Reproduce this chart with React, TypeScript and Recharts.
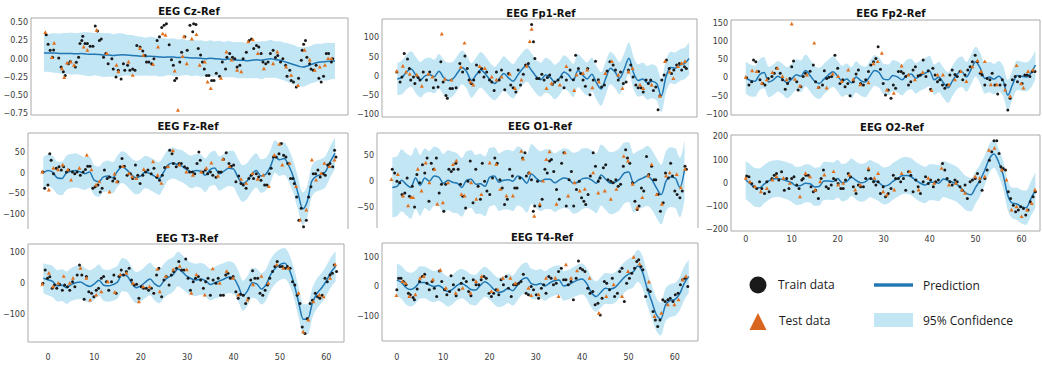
import React from "react";
import { Area, ComposedChart, Line, ReferenceLine, Scatter, XAxis, YAxis } from "recharts";

type Pt = [number, number];

const BAND = "#c3e6f5";
const PRED = "#1f77b4";
const TRAIN = "#1a1a1a";
const TEST = "#e0701c";
const FRAME = "#a9a9a9";
const TICK = "#3a3a3a";
const X_TICKS = [0, 10, 20, 30, 40, 50, 60];

// ---- EEG Cz-Ref (x from -1) ----
const czPred = [
  0.08, 0.08, 0.078, 0.075, 0.07, 0.072, 0.07, 0.068, 0.07, 0.065,
  0.06, 0.062, 0.058, 0.05, 0.052, 0.045, 0.05, 0.055, 0.05, 0.045,
  0.04, 0.035, 0.03, 0.035, 0.03, 0.025, 0.02, 0.025, 0.022, 0.015,
  0.02, 0.015, 0.01, 0.01, 0.005, 0.0, 0.005, 0.0, -0.005, -0.01,
  -0.005, -0.015, -0.02, -0.02, -0.03, -0.02, -0.015, -0.02, -0.01, 0.0,
  -0.01, -0.02, -0.04, -0.06, -0.08, -0.1, -0.115, -0.1, -0.075, -0.055,
  -0.045, -0.04, -0.035, -0.03,
];
const czSpread = [
  0.26, 0.26, 0.27, 0.27, 0.28, 0.28, 0.29, 0.28, 0.29, 0.3,
  0.3, 0.29, 0.3, 0.3, 0.3, 0.29, 0.3, 0.29, 0.28, 0.28,
  0.27, 0.27, 0.26, 0.27, 0.26, 0.27, 0.26, 0.25, 0.26, 0.25,
  0.25, 0.24, 0.25, 0.24, 0.25, 0.24, 0.25, 0.24, 0.25, 0.24,
  0.25, 0.24, 0.25, 0.25, 0.24, 0.25, 0.25, 0.26, 0.25, 0.26,
  0.25, 0.26, 0.26, 0.27, 0.27, 0.26, 0.27, 0.26, 0.26, 0.26,
  0.25, 0.26, 0.25, 0.25,
];
const czTrain: Pt[] = [
  [-0.5, 0.33], [-0.1, 0.2], [0.35, 0.115], [1.1, 0.12], [0.86, 0.02], [2.2, 0.01], [2.7, -0.115], [3.2, -0.18],
  [3.6, -0.23], [4.3, -0.07], [4.7, -0.04], [5.8, -0.115], [6, -0.05], [6.5, 0.02], [6.8, 0.21], [7.2, 0.25],
  [7.4, 0.31], [7.9, 0.21], [8.4, 0.21], [9, 0.17], [9.6, 0.17], [10.1, 0.45], [10.6, 0.38], [11, 0.25],
  [11.4, 0.27], [11.9, 0.02], [12.4, 0.07], [12.9, -0.07], [13.7, 0], [14, -0.14], [14.6, -0.25], [15.1, -0.16],
  [15.7, -0.28], [16.2, -0.07], [16.5, -0.16], [17.1, -0.09], [17.6, -0.16], [18.2, -0.14], [18.7, -0.16], [19.1, 0.18],
  [19.8, 0.16], [20.4, 0.105], [20.9, 0.045], [21.2, -0.045], [21.7, -0.045], [22.3, -0.07], [22.8, 0], [23.5, 0.25],
  [24, 0.3], [24.5, 0.43], [25, 0.46], [25.5, 0.48], [26.1, 0.19], [26.6, -0.015], [27, -0.09], [27.3, -0.3],
  [27.7, -0.27], [28.4, -0.045], [28.8, 0.09], [29.5, 0.3], [30, 0.115], [30.6, 0.46], [31.2, 0.37], [31.4, 0.48],
  [31.9, 0.47], [32.4, 0.14], [32.9, 0.05], [33.3, -0.045], [33.7, -0.14], [34.2, -0.23], [34.7, -0.23], [35.3, -0.3],
  [35.8, -0.3], [36.3, -0.2], [37, -0.24], [37.6, -0.045], [38.3, -0.14], [38.6, 0.02], [39.2, 0.07], [39.8, 0.02],
  [40.3, 0], [40.8, -0.115], [41.4, -0.09], [42.1, 0], [42.8, 0.09], [43.4, 0.25], [43.9, 0.27], [44.4, 0.14],
  [45, 0.18], [45.5, 0.16], [46, 0.07], [46.4, -0.045], [47, -0.07], [47.5, -0.045], [48, 0.07], [48.6, 0.115],
  [49.1, 0.015], [49.6, 0.045], [50.2, -0.045], [50.7, 0], [51.3, -0.09], [51.6, -0.24], [52.2, -0.16], [52.5, -0.3],
  [53, -0.32], [53.6, -0.39], [54.1, -0.27], [54.7, -0.02], [54.9, 0.115], [55.2, 0.2], [55.6, 0.25], [55.9, 0.02],
  [56.5, -0.07], [56.8, -0.14], [57.3, -0.16], [57.9, -0.09], [58.5, -0.27], [59, -0.32], [59.5, -0.24], [60.1, 0.07],
  [60.6, 0.07], [61.2, -0.045], [61.5, 0],
];
const czTest: Pt[] = [
  [-0.7, 0.36], [0.7, 0.015], [1.2, 0.21], [2.9, -0.14], [3.4, -0.26], [4, -0.06], [4.8, -0.045], [5.5, -0.09],
  [7.6, 0.16], [8.4, 0.115], [10.4, 0.39], [12.6, 0.07], [14.7, -0.09], [15.1, -0.18], [17.3, -0.045], [18.2, -0.23],
  [19.8, 0.14], [20.5, 0.045], [22.6, -0.08], [23.7, 0.16], [24.7, 0.34], [25.3, 0.32], [27.3, -0.17], [28, -0.71],
  [29, 0.03], [29.3, 0.3], [29.9, -0.07], [31, 0.27], [32, 0.33], [32.7, -0.09], [33.8, -0.045], [34.4, -0.32],
  [35.1, -0.41], [37.3, -0.27], [38.5, 0.09], [39.6, -0.02], [40.8, -0.16], [41.7, -0.18], [43.2, 0.23], [44.2, 0.26],
  [45.3, 0.07], [46.6, -0.14], [48.6, -0.07], [49.5, 0.09], [51.4, -0.115], [52.5, -0.23], [54, -0.37], [55.4, 0.115],
  [56.5, -0.02], [57.6, -0.16], [58.7, -0.115], [59.8, -0.09], [60.5, 0], [61.2, 0],
];

// ---- EEG Fp1-Ref (x from 0) ----
const fp1Pred = [
  -8, -4, 10, 18, 2, -10, 0, 3, -2, 12,
  -4, -12, -8, 8, 22, 10, -12, 2, 16, 5,
  -10, -20, -8, 6, -5, -14, 2, 18, 28, 14,
  -2, -10, 2, -4, -16, -6, 10, 2, -12, 14,
  2, -8, 4, -18, -34, -6, 20, 10, -6, 18,
  46, 8, -12, -8, -18, -14, -20, -52, -2, 22,
  20, 28, 32, 45,
];
const fp1Spread = [
  42, 44, 45, 46, 47, 46, 45, 45, 44, 45,
  46, 46, 45, 45, 44, 44, 45, 45, 46, 46,
  45, 44, 44, 45, 45, 45, 44, 43, 43, 44,
  44, 44, 45, 45, 45, 44, 44, 43, 43, 43,
  43, 43, 44, 44, 44, 43, 42, 42, 42, 41,
  41, 42, 42, 43, 44, 44, 44, 43, 42, 41,
  41, 41, 41, 42,
];
const fp1Train: Pt[] = [
  [-0.1, 10], [0.6, -16], [1, -3], [1.5, 58], [2.2, 44], [2.6, 19], [2.9, -11], [3.5, -3], [3.8, -20], [4.5, -4],
  [4.9, -11], [5.6, 10], [6.3, -11], [7, 10], [7.8, -31], [8.3, -11], [8.8, -29], [9.4, 37], [9.9, -16], [10.5, -51],
  [10.8, -58], [11.4, -33], [11.9, -33], [12.7, -31], [13.5, 32], [14.1, 10], [14.6, 52], [15.1, 19], [15.5, -11], [16, -20],
  [16.5, -11], [17.1, 28], [17.7, 10], [18.2, 19], [18.7, -3], [19.3, 10], [19.9, -11], [20.4, -16], [20.9, -38], [21.4, 10],
  [22, -11], [22.5, 15], [23.2, -36], [24, 6], [24.5, -24], [25, -31], [25.6, -42], [26.1, 15], [26.6, -24], [27.2, 4],
  [27.7, 28], [28.3, 32], [29, 134], [29.4, 89], [29.7, 45], [30.1, -7], [30.6, -7], [31.2, 4], [31.7, -11], [32.4, -4],
  [32.9, 2], [33.5, -22], [34, -16], [34.7, -11], [35.5, -3], [36, -31], [36.5, -11], [37.3, 15], [38, -10], [38.5, 54],
  [39.1, 19], [39.6, 6], [40.1, -11], [40.6, -27], [41.1, 19], [41.6, -49], [42.3, -11], [42.8, 38], [43.4, -10], [44.1, -29],
  [44.7, -24], [45.3, 13], [45.9, 37], [46.6, 28], [47.1, 15], [47.7, -11], [48.2, 10], [48.8, -20], [49.4, -16], [49.9, 15],
  [50.4, 28], [50.9, -3], [51.5, -24], [52, -31], [52.6, -31], [53.1, -42], [53.7, -11], [54.2, -20], [54.7, -11], [55.3, -38],
  [55.8, -29], [56.3, -88], [56.7, -52], [57.1, -11], [57.6, 2], [58.1, 41], [58.7, 19], [59.2, 6], [59.7, 15], [60.3, 28],
  [60.9, 32], [61.4, 15], [62, 24], [62.4, 19],
];
const fp1Test: Pt[] = [
  [-0.1, 12], [1.2, 25], [1.9, 10], [2.7, 4], [4.2, 2], [5.3, -27], [6.7, 4], [7.6, -3], [9.6, 109], [10.3, -9],
  [11.7, -11], [13.7, 22], [14.5, 85], [15.8, -16], [16.4, -24], [17.8, 24], [18.9, 19], [20.4, -3], [21.4, -11], [22.5, -3],
  [24.3, 4], [25.4, -33], [26.8, -11], [27.9, 25], [28.6, 89], [29, 121], [32.2, -33], [33.3, -20], [35.1, -24], [36.5, 24],
  [38.2, -38], [38.7, 2], [40.1, 6], [41, 15], [42.1, -31], [43.5, -16], [44.9, 6], [46.3, 37], [47.7, 2], [48.6, -33],
  [49.9, 10], [50.8, 19], [52.4, -24], [53.1, -33], [54.9, -24], [56.7, -53], [57.8, 37], [58.8, 10], [59.6, -7], [60.6, 24],
  [61.4, 32], [62.1, 37],
];

// ---- EEG Fp2-Ref (x from 0) ----
const fp2Pred = [
  0, -8, -10, 8, 14, -12, -6, 4, -4, -14,
  -4, 8, 4, 20, 6, -10, -16, -4, 8, 16,
  4, -10, -4, -14, 2, -8, -12, 4, 20, 14,
  -4, -6, 6, 2, -6, 6, 10, -2, 6, 12,
  18, -6, 2, -14, -28, -8, 10, 16, 2, 22,
  44, 26, -2, 2, -4, 4, -10, -48, -20, 6,
  4, 2, 12, 35,
];
const fp2Spread = [
  44, 44, 43, 43, 43, 42, 42, 42, 42, 43,
  43, 43, 44, 44, 44, 43, 43, 42, 42, 42,
  42, 43, 43, 43, 43, 42, 42, 42, 42, 42,
  42, 42, 43, 43, 43, 43, 42, 42, 42, 42,
  42, 42, 42, 42, 42, 42, 42, 42, 41, 41,
  41, 42, 42, 42, 42, 42, 42, 42, 41, 41,
  40, 40, 40, 40,
];
const fp2Train: Pt[] = [
  [0.2, 0], [0.7, -20], [1.3, -11], [1.7, 49], [2.2, 44], [2.8, 17], [3.1, -6], [3.7, -16], [4.2, -20], [4.9, -2],
  [5.7, 3], [6.2, 12], [6.7, 26], [7.5, 12], [8, -6], [8.6, -32], [9.1, -16], [9.6, -2], [10, 30], [10.4, 46],
  [11.1, -11], [11.4, -34], [12, -25], [12.5, 3], [13, 12], [14, 18], [14.7, 35], [15.2, -11], [15.9, -27], [16.7, -20],
  [17.1, 19], [17.6, -2], [18.1, 1], [18.7, 3], [19.4, 62], [20, 26], [20.5, -16], [21.1, -6], [21.6, -25], [22.2, -16],
  [22.7, -50], [23.4, -11], [24, 10], [24.5, 21], [25, -16], [25.6, -20], [26.1, -6], [26.7, 17], [27.2, 35], [27.8, 44],
  [28.3, 53], [28.8, 85], [29.3, 23], [29.9, -16], [30.4, -48], [31, -34], [31.6, -57], [32.1, -20], [32.6, -29], [33.2, 17],
  [33.8, 17], [34.3, 12], [34.8, 3], [35.4, -20], [35.9, -11], [36.4, 21], [36.9, 30], [37.5, 5], [38, 7], [38.6, 49],
  [39.2, 3], [39.7, 19], [40.2, -32], [40.7, 26], [41.2, 7], [41.7, -11], [42.2, -6], [42.8, -20], [43.3, -29], [43.8, -20],
  [44.4, 7], [44.9, 21], [45.5, 9], [46, 3], [46.6, 17], [47.2, -6], [47.7, 7], [48.3, 21], [48.8, 30], [49.3, 44],
  [49.9, 62], [50.4, 44], [51, 12], [51.4, 7], [52, -20], [52.5, -2], [53.1, -6], [53.6, 12], [54.2, -20], [54.8, -45],
  [55.3, -20], [55.8, -6], [56.4, -20], [57, -89], [57.5, -57], [58, -6], [58.6, 3], [59.1, -11], [59.6, 3], [60.1, -16],
  [60.7, 7], [61.2, 7], [61.8, 3], [62.3, 17], [62.9, 17],
];
const fp2Test: Pt[] = [
  [0, 1], [1.4, 19], [2.4, 17], [3.5, -16], [4.6, -6], [5.8, 14], [6.9, 26], [8, 3], [8.9, -6], [10, 148],
  [10.7, -5], [11.8, -23], [13.3, 7], [14.9, 95], [15.8, -27], [17.6, -29], [18.9, 10], [20.1, 3], [20.9, -11], [22.3, 21],
  [23.4, -5], [24.9, -20], [26.7, -14], [27.8, 38], [28.7, 44], [29.6, 67], [30.7, -34], [32.2, -43], [33.9, 32], [35.4, 7],
  [36.8, -6], [38.5, 14], [40.4, -36], [41.7, 7], [42.9, 7], [44.2, -20], [45.5, -6], [46.8, 17], [48, -11], [49.3, 30],
  [50.4, 46], [51.2, 17], [52, 44], [53.3, -20], [54.6, -20], [56.4, -34], [57.5, -52], [58.9, 33], [59.9, -17], [60.4, -29],
  [61.4, 17], [62.5, 21],
];

// ---- EEG Fz-Ref (x from -1) ----
const fzPred = [
  0, 6, 2, -12, -14, 0, 4, 6, 2, -2,
  2, -18, -22, -10, -8, -12, 4, 14, 8, -4,
  -12, -8, 2, -2, -8, -14, 2, 20, 24, 20,
  16, 8, 2, 6, 4, -6, 8, 12, -2, 4,
  11, 10, -10, -26, -20, -4, 6, -8, -4, 14,
  40, 32, 35, 18, -10, -50, -88, -70, -20, -8,
  -4, 4, 28, 48,
];
const fzSpread = [
  38, 39, 40, 40, 41, 42, 42, 42, 41, 40,
  38, 37, 37, 37, 38, 38, 38, 39, 40, 40,
  41, 41, 40, 40, 40, 40, 39, 38, 38, 38,
  39, 39, 40, 40, 41, 41, 41, 42, 42, 42,
  43, 44, 45, 45, 44, 43, 42, 41, 40, 40,
  40, 40, 40, 40, 40, 40, 40, 39, 38, 38,
  38, 38, 38, 38,
];
const fzTrain: Pt[] = [
  [-1.1, 2], [-0.7, -38], [0, -30], [0.4, 47], [0.7, 31], [1.2, -2], [1.8, 11], [2.4, 15], [2.9, 7], [3.4, 15],
  [4, 2], [4.5, 7], [5.3, 2], [5.8, -2], [6.3, 2], [7, -6], [7.6, 2], [8.1, 8], [8.6, 16], [9.1, 16],
  [9.7, -38], [10.2, -34], [10.8, -30], [11.3, -47], [11.7, -38], [12.2, 7], [12.8, -14], [13.3, -10], [14, -20], [14.4, -14],
  [15.1, -22], [15.6, 15], [16, 35], [16.5, 16], [17.1, -6], [17.8, -2], [18.3, -14], [18.9, 19], [19.4, -6], [19.9, -26],
  [20.5, -6], [21.1, 2], [21.6, 7], [22.3, -2], [22.9, 11], [23.5, -11], [24.1, -18], [24.7, -6], [25.2, 13], [25.9, 15],
  [26.3, 55], [26.8, 47], [27.1, 23], [27.7, 15], [28.3, 23], [28.8, 23], [29.5, 15], [30.1, 11], [30.6, 2], [31.2, 2],
  [31.7, -2], [32.2, 23], [32.6, 51], [32.9, 31], [33.5, 2], [34, 7], [34.5, -2], [35.1, 2], [35.6, -6], [36.3, -11],
  [36.9, 2], [37.4, 2], [37.9, 33], [38.5, 49], [39.1, 23], [39.6, 16], [40.1, 19], [40.6, -22], [41.2, -8], [41.7, -26],
  [42.2, -30], [42.8, -38], [43.4, -14], [43.9, -6], [44.4, -14], [45, -2], [45.5, -10], [46, -18], [46.8, -30], [47.3, -30],
  [47.8, -2], [48.2, 11], [48.7, 39], [49.3, 39], [49.9, 47], [50.4, 72], [50.9, 43], [51.4, 39], [51.8, 23], [52.4, -14],
  [52.9, -14], [53.2, -26], [53.7, -59], [54.2, -116], [54.7, -87], [55.2, -132], [55.8, -116], [56.3, -59], [56.8, -34], [57.3, -2],
  [57.8, -2], [58.3, 7], [58.8, -10], [59.4, -2], [59.9, -6], [60.4, 19], [60.9, 23], [61.5, 15], [61.9, 55], [62.2, 39],
];
const fzTest: Pt[] = [
  [-1.2, 2], [0.2, -42], [1.2, 11], [2.2, 7], [3.2, 19], [4.3, 7], [5, -18], [6.8, 11], [8.4, 43], [9.4, 7],
  [10.4, -30], [11.1, -22], [13.3, -47], [14.4, -3], [14.9, -22], [16.2, 15], [17.5, -2], [18.2, -10], [19.1, -14], [20.7, 8],
  [22.7, 27], [23.7, -6], [24.5, -26], [25.9, 15], [27, 54], [28.4, 19], [29.9, 2], [31.3, -6], [33.1, 2], [34.2, 11],
  [35.3, 24], [36.7, -8], [37.8, 33], [39.2, 15], [41.7, -16], [42.8, -26], [44.2, -2], [45.3, -16], [46.5, -6], [47.7, -34],
  [48.9, 43], [50, 70], [50.6, 19], [52.2, 23], [53.6, -34], [54.5, -116], [55.8, -91], [57, 31], [57.9, -18], [59, -2],
  [59.7, 23], [60.8, 15], [61.9, 31],
];

// ---- EEG O1-Ref (x from -1) ----
const o1Pred = [
  -12, -10, 2, -6, -12, 6, -8, 6, 0, 10,
  8, -4, 2, -2, -4, -12, 2, 4, -6, -5,
  -10, 8, 10, -2, 2, 3, 0, 10, 6, -4,
  14, 6, 0, 4, 4, -3, 2, 6, 4, -4,
  -2, 5, 6, 2, -4, 12, 4, -4, -2, 4,
  16, 18, -4, 2, 6, 10, 2, -14, -26, 0,
  8, 6, -12, 22,
];
const o1Spread = [
  58, 58, 60, 60, 61, 60, 59, 58, 58, 57,
  56, 57, 58, 59, 58, 57, 56, 56, 57, 58,
  58, 57, 56, 56, 57, 58, 58, 57, 57, 57,
  58, 58, 58, 58, 58, 57, 57, 58, 58, 59,
  59, 59, 58, 58, 58, 59, 60, 60, 60, 60,
  59, 58, 57, 57, 57, 58, 58, 58, 58, 58,
  58, 58, 58, 58,
];
const o1Train: Pt[] = [
  [-1, 23], [-0.5, 16], [0, 0], [0.6, -3], [1.1, -26], [1.7, -23], [2.2, 6], [2.7, -29], [3.3, -10], [3.8, -50],
  [4.3, 13], [4.9, -3], [5.5, 32], [6, 16], [6.5, 45], [6.9, -39], [7.4, 35], [7.9, 23], [8.5, 45], [9.1, -23],
  [9.6, -6], [10.1, -58], [10.5, -6], [11.2, 23], [11.7, 19], [12.2, 23], [12.7, 35], [13.2, 23], [13.7, -6], [14.2, -29],
  [14.8, -52], [15.3, 0], [15.8, 39], [16.4, -42], [17, 23], [17.5, -10], [18, -35], [18.4, 35], [18.9, 0], [19.4, -19],
  [20, -26], [20.6, 6], [21.1, 45], [21.6, 35], [22.2, 3], [22.7, -13], [23.2, -45], [23.8, -35], [24.3, 23], [24.9, 10],
  [25.4, -13], [25.9, -13], [26.5, 6], [27.1, 45], [27.6, 55], [27.9, 10], [28.4, 16], [29, 3], [29.4, -58], [29.7, -48],
  [30.3, 0], [30.8, -48], [31.3, -35], [31.9, 23], [32.4, 16], [32.9, 39], [33.3, 42], [33.8, 19], [34.4, -16], [35, -35],
  [35.5, 35], [36, 55], [36.5, -48], [37.1, 3], [37.6, 19], [38.1, -48], [38.7, -16], [39.3, 0], [39.8, -32], [40.3, -39],
  [40.7, -45], [41.2, -26], [41.7, 10], [42.3, 55], [42.8, 29], [43.4, 0], [43.8, 6], [44.5, 26], [45, 32], [45.5, 3],
  [46.1, 0], [46.6, -3], [47.2, 3], [47.7, -10], [48.2, -6], [48.8, 29], [49.3, 61], [49.7, 45], [50.2, 35], [50.8, -3],
  [51.3, -39], [51.8, -55], [52.2, -48], [52.7, -13], [53.2, -19], [53.8, 48], [54.3, 13], [54.9, 29], [55.4, 3], [55.8, 3],
  [56.3, -26], [56.8, -58], [57.4, -42], [57.9, 16], [58.5, 6], [59, 35], [59.4, 10], [59.9, -19], [60.4, -26], [61, -32],
  [61.5, -19], [62.1, 29], [62.4, 23],
];
const o1Test: Pt[] = [
  [-1.2, 3], [0.2, 13], [1.3, -29], [2.4, -48], [3.1, -32], [3.5, -32], [4.5, 23], [5.3, -19], [6.2, 35], [7, -3],
  [8.1, 23], [8.7, -45], [9.9, -42], [11, -3], [12.1, 32], [12.8, 39], [13.9, -26], [14.6, -29], [16, -3], [17.1, -35],
  [18.2, -26], [20, 35], [21.4, 32], [22.3, -16], [23.6, -29], [25, -29], [26.8, 58], [27.2, 43], [28.6, 16], [29.6, -68],
  [30.8, -45], [31.5, 0], [32.2, 42], [32.9, 57], [34.4, -45], [36.2, 55], [36.9, -29], [38.3, -3], [39.4, -19], [40.5, -16],
  [42.3, 16], [43.4, -23], [44.8, -19], [46.1, -35], [47.3, -16], [48.9, 48], [49.8, 39], [50.8, -6], [51.8, -52], [52.9, -32],
  [54.2, 10], [54.9, 32], [56, -26], [57.1, -45], [58, 10], [58.8, 16], [60.3, 13], [61.2, -13], [62.1, 23],
];

// ---- EEG O2-Ref (x from 0) ----
const o2Pred = [
  12, -4, -20, -22, -6, 8, 16, 19, 14, 8,
  0, -14, -12, -2, -4, -18, -16, 8, 8, 6,
  18, 0, 6, 24, 10, 0, 4, 18, 10, 0,
  -14, -10, 6, 18, 30, 32, 26, 10, -2, -10,
  2, 2, -2, 16, 10, 2, -8, -28, -46, -52,
  -20, 12, 55, 105, 125, 90, 33, -55, -88, -92,
  -104, -108, -70, -32,
];
const o2Spread = [
  82, 83, 84, 84, 83, 82, 80, 80, 80, 81,
  82, 82, 82, 82, 82, 83, 83, 83, 82, 82,
  82, 81, 81, 81, 82, 82, 82, 81, 80, 80,
  80, 80, 80, 80, 80, 80, 80, 80, 80, 79,
  78, 78, 78, 78, 78, 77, 76, 75, 74, 72,
  70, 68, 64, 62, 60, 60, 62, 64, 66, 70,
  72, 74, 75, 76,
];
const o2Train: Pt[] = [
  [0.2, 29], [0.7, 26], [1.3, -3], [1.8, -17], [2.4, -25], [3, 4], [3.5, -25], [4.1, -46], [4.6, 4], [5.1, -39],
  [5.7, 19], [6.2, 33], [6.7, 40], [7.2, 12], [7.8, 48], [8.4, -32], [8.9, 19], [9.4, -25], [10, 19], [10.5, 26],
  [11.1, -10], [11.6, -25], [12.2, 12], [12.5, 19], [13.1, 33], [13.6, 33], [14.2, -17], [14.7, -39], [15.2, -32], [15.8, -68],
  [16.4, 19], [16.9, 55], [17.5, -17], [18, -25], [18.6, -10], [19.1, 19], [19.6, 12], [20.1, -3], [20.7, -25], [21.2, -25],
  [21.7, 12], [22.3, 40], [22.8, 26], [23.4, -17], [24, -46], [24.5, -10], [25, -17], [25.6, -17], [26.1, 19], [26.7, 55],
  [27.2, 19], [27.8, 4], [28.3, -10], [28.8, 4], [29.3, -46], [29.9, -17], [30.4, -61], [31, -46], [31.6, -25], [32.1, 33],
  [32.6, 19], [33.2, 19], [33.7, 4], [34.3, 19], [34.8, -32], [35.4, 48], [35.9, 33], [36.4, -39], [37, 12], [37.5, -17],
  [38, -46], [38.6, 4], [39.1, 26], [39.7, -3], [40.2, 12], [40.8, -17], [41.3, 4], [41.9, 12], [42.8, 84], [43.3, 55],
  [43.8, 19], [44.4, 4], [44.9, -10], [45.5, 12], [46, 4], [46.6, -17], [47.1, -32], [47.7, -10], [48.2, -68], [48.8, 4],
  [49.3, 12], [49.9, 19], [50.4, 40], [50.9, 4], [51.4, -32], [52, 19], [52.5, 55], [53, 98], [53.5, 134], [54, 182],
  [54.6, 182], [55.1, 127], [55.5, 69], [56, 62], [56.5, 55], [57.1, -39], [57.6, -68], [58.2, -97], [58.7, -126], [59.3, -118],
  [59.8, -104], [60.4, -111], [60.9, -140], [61.4, -118], [61.9, -82], [62.5, -61], [63, -39],
];
const o2Test: Pt[] = [
  [0, 19], [0.9, 4], [2, -17], [3.3, -39], [4.6, -25], [5.8, 12], [6.7, 26], [8.2, 19], [9.6, -3], [11.8, -61],
  [13, 40], [14, 26], [15.1, -32], [16.2, 4], [17.1, 33], [19.1, 48], [20.1, -10], [21.2, -3], [22.5, 33], [23.8, -32],
  [24.9, -10], [26.7, 62], [28, 19], [28.8, 40], [29.9, -39], [30.7, -53], [32.3, -32], [33.9, 40], [35.7, 48], [37.6, -32],
  [39.7, 19], [41, -3], [42.6, 62], [44.2, -10], [45.7, -3], [47, -32], [47.7, -46], [49.9, 26], [50.9, 19], [52, 26],
  [52.9, 141], [54.1, 149], [55.7, 55], [56.7, 12], [57.8, -118], [58.9, -104], [60, -147], [61.2, -118], [62.2, -90], [62.9, -32],
];

// ---- EEG T3-Ref (x from -1) ----
const t3Pred = [
  16, 11, 6, -8, -6, -14, -4, 2, 4, -4,
  -10, -2, 10, -6, -8, -4, 4, 28, 24, 2,
  -14, -8, 4, 14, -2, -10, 8, 20, 28, 46,
  36, 22, 14, 11, 14, 8, -4, 2, 8, 14,
  20, 16, -8, -40, -24, 2, -2, -18, -4, 28,
  48, 60, 64, 44, 0, -60, -115, -115, -62, -32,
  -14, 8, 36, 54,
];
const t3Spread = [
  48, 49, 50, 50, 51, 52, 53, 54, 54, 53,
  52, 51, 50, 50, 51, 52, 53, 53, 52, 51,
  50, 50, 51, 52, 53, 54, 55, 56, 56, 55,
  54, 53, 52, 52, 51, 51, 51, 51, 52, 52,
  51, 50, 49, 48, 48, 48, 49, 50, 50, 50,
  50, 49, 49, 48, 48, 48, 48, 48, 48, 48,
  48, 48, 48, 48,
];
const t3Train: Pt[] = [
  [-1.1, 0], [-0.6, 43], [-0.1, 16], [0.4, 21], [0.9, -16], [1.4, -5], [1.9, -16], [2.5, -3], [3.1, -22], [3.6, -5],
  [4.2, -11], [4.7, -22], [5.3, 5], [5.8, -11], [6.3, 27], [6.8, 59], [7.3, 27], [7.8, -51], [8.3, 22], [8.8, -27],
  [9.4, -32], [9.9, -43], [10.4, -22], [10.9, -16], [11.5, 16], [12, 22], [12.6, 5], [13.1, -22], [13.7, 5], [14.2, 27],
  [14.7, -32], [15.3, 22], [15.8, 43], [16.3, 27], [16.9, 38], [17.5, 48], [18, 11], [18.6, -5], [19.1, -3], [19.6, -48],
  [20.1, -11], [20.6, -16], [21.2, -16], [21.7, -22], [22.3, -16], [22.8, -32], [23.4, 27], [23.9, 48], [24.5, -43], [25, 11],
  [25.5, 22], [26.1, -5], [26.6, 27], [27.1, 38], [27.7, 48], [28.2, 70], [28.8, 43], [29.3, 43], [29.7, 78], [30.2, 16],
  [30.7, -22], [31.3, 5], [31.8, 16], [32.4, 22], [32.9, 11], [33.5, -16], [34, 5], [34.5, 16], [35, -38], [35.6, 11],
  [36.2, 0], [36.7, 16], [37.2, -38], [37.8, -38], [38.3, 27], [38.8, 32], [39.3, 16], [39.9, 22], [40.5, -27], [41, -48],
  [41.5, -35], [42.1, -38], [42.6, -65], [43.2, -48], [43.7, 11], [44.1, 40], [44.6, 16], [45.2, 16], [45.7, -32], [46.3, -38],
  [46.8, -22], [47.3, -5], [47.8, 16], [48.4, 38], [48.9, 54], [49.4, 70], [50, 54], [50.5, 54], [51.1, 48], [51.6, 54],
  [52.2, 48], [52.7, 5], [53.2, -5], [53.7, -38], [54.3, -65], [54.8, -140], [55.4, -161], [55.9, -113], [56.5, -65], [57, -54],
  [57.6, -32], [58.1, -43], [58.6, -48], [59.1, -38], [59.7, 16], [60.2, 5], [60.8, 27], [61.3, 32], [61.7, 59], [62.2, 38],
];
const t3Test: Pt[] = [
  [-1.2, -3], [0.2, 32], [1.1, -11], [2.2, 0], [3.4, 22], [4.7, 0], [5.4, 16], [7, 48], [8.3, 16], [9.1, -54],
  [10.4, -38], [11.5, -27], [12.9, 5], [14.4, -29], [15.6, 27], [16.9, 32], [18.3, 0], [19.6, -59], [20.5, -11], [21.9, -11],
  [23.6, 45], [24.1, -27], [25.4, 22], [27, 43], [28.4, 54], [29.9, 43], [30.9, -32], [32, 27], [33.8, -38], [35.5, 46],
  [37, 0], [38.5, 38], [39.9, 16], [41, -38], [43, -54], [44.2, -5], [46, 22], [47.5, 0], [49.3, 59], [50.7, 48],
  [51.8, 48], [54, -32], [55, -156], [56.1, -118], [57.2, -59], [58.5, -38], [59.4, -43], [60.8, 16], [61.9, 59],
];

// ---- EEG T4-Ref (x from 0) ----
const t4Pred = [
  22, 14, -4, -10, -2, 14, 14, 6, 0, 4,
  -6, -17, -10, 4, 10, 2, -10, -12, 4, 16,
  6, -10, -20, -16, -6, -14, 4, 24, 30, 10,
  6, 10, 2, 12, 20, 22, 2, 6, 14, 22,
  26, 10, -20, -34, -20, -6, -8, -4, 12, 30,
  42, 50, 70, 50, -5, -50, -95, -110, -62, -48,
  -44, -26, 10, 34,
];
const t4Spread = [
  56, 56, 57, 57, 56, 55, 54, 54, 53, 52,
  51, 51, 50, 50, 50, 51, 52, 52, 52, 51,
  50, 50, 50, 50, 50, 51, 52, 52, 52, 51,
  50, 50, 50, 50, 50, 50, 50, 50, 51, 52,
  52, 52, 52, 52, 52, 52, 52, 52, 52, 52,
  52, 53, 54, 55, 56, 56, 56, 56, 56, 56,
  56, 56, 57, 57,
];
const t4Train: Pt[] = [
  [0, -11], [0.4, 28], [0.9, 28], [1.4, 17], [2, 6], [2.5, -23], [2.9, -28], [3.5, -37], [3.8, -45], [4.4, -8],
  [4.9, 17], [5.5, 34], [6, 42], [6.5, 11], [7, -11], [7.6, 17], [8.1, -6], [8.6, -34], [9.2, 53], [9.7, 17],
  [10.3, -11], [10.8, -28], [11.4, -17], [11.7, 37], [12.2, 6], [12.8, -31], [13.4, -11], [13.9, 11], [14.4, 28], [15, 17],
  [15.5, -17], [16, -31], [16.5, 23], [17.1, 6], [17.7, 6], [18.2, 23], [18.8, 34], [19.3, 28], [19.9, -23], [20.4, -34],
  [20.9, -23], [21.4, -11], [22, -28], [22.5, 23], [23, 6], [23.6, 34], [24.1, -6], [24.7, -34], [25.2, 6], [25.8, 6],
  [26.3, 11], [26.8, 17], [27.3, 42], [27.9, -23], [28.4, -28], [29, 0], [29.5, -11], [30.1, -28], [30.6, -40], [31.2, -6],
  [31.7, 6], [32.2, -23], [32.8, 34], [33.3, 28], [33.8, 6], [34.4, 11], [34.9, 51], [35.5, 62], [36, 23], [36.5, 23],
  [37, 6], [37.6, 17], [38.1, -45], [38.7, 28], [39.2, 87], [39.6, 62], [40.1, 57], [40.6, 51], [41.2, -6], [41.7, -23],
  [42.3, -17], [42.8, -62], [43.4, -57], [43.9, -97], [44.3, -40], [44.8, 17], [45.3, 11], [45.9, -11], [46.5, 28], [47, -34],
  [47.6, -23], [48.1, 51], [48.6, 62], [49.1, -51], [49.6, 11], [50.2, 28], [50.7, 45], [51.3, 62], [51.8, 85], [52.2, 91],
  [52.7, 68], [53.1, 57], [53.7, -34], [54.2, -11], [54.7, -17], [55.3, -85], [55.8, -114], [56.3, -136], [56.8, -114], [57.4, -45],
  [57.9, -51], [58.5, -45], [59, -40], [59.6, -51], [60.1, -28], [60.7, -23], [61.2, 6], [61.7, 23], [62.2, 28], [62.8, 0],
];
const t4Test: Pt[] = [
  [-0.1, -31], [1.2, 17], [1.9, 11], [2.7, -34], [4, -28], [5, 28], [5.8, 34], [7.8, 23], [9.4, 55], [10.6, -6],
  [12.7, -23], [14.2, -6], [15.9, -23], [17.1, 17], [18.3, 34], [20.4, -17], [21.8, -11], [22.9, 28], [24.5, 28], [25.6, 11],
  [28.4, -6], [29, -31], [30.6, -28], [32.2, 28], [34.2, 28], [34.9, -34], [36.5, 74], [37.6, 28], [38.9, 53], [41.6, 28],
  [43.6, -91], [45.2, -34], [46.8, 6], [48.6, -34], [49.9, 51], [51.1, 99], [52.4, 76], [54.4, 15], [55.6, -102], [57.1, -91],
  [58.5, -62], [59.9, -62], [60.8, -45], [61.7, 23], [62.4, 34],
];

const TrainDot = (p: any) => <circle cx={p.cx} cy={p.cy} r={1.5} fill={TRAIN} />;
const TestTri = (p: any) => (
  <path d={`M${p.cx},${p.cy - 2.3}L${p.cx + 2},${p.cy + 1.4}L${p.cx - 2},${p.cy + 1.4}Z`} fill={TEST} />
);

const fmt = (decimals: number) => (v: number) => {
  const s = decimals ? Math.abs(v).toFixed(decimals) : String(Math.abs(v));
  return v < 0 ? `\u2212${s}` : s;
};

type Box = { l: number; t: number; r: number; b: number };
type PanelProps = {
  title: string;
  titleAt: [number, number];
  box: Box;
  xDomain: [number, number];
  yDomain: [number, number];
  yTicks: number[];
  decimals?: number;
  start: number;
  pred: number[];
  spread: number[];
  train: Pt[];
  test: Pt[];
  xLabelGap?: number;
  bottomLine?: boolean;
};

const YW = 40;
const MT = 6;
const MR = 2;
const MB = 6;

function Panel(p: PanelProps) {
  const showX = p.xLabelGap !== undefined;
  const XH = showX ? 24 : 0;
  const rows = p.pred.map((v, i) => ({ x: p.start + i, y: v, band: [v - p.spread[i], v + p.spread[i]] }));
  const train = p.train.map(([x, y]) => ({ x, y }));
  const test = p.test.map(([x, y]) => ({ x, y }));
  const w = p.box.r - p.box.l;
  const h = p.box.b - p.box.t;
  const tickStyle = { fontSize: 8, fill: TICK, fontFamily: "DejaVu Sans" };
  return (
    <>
      <div
        style={{
          position: "absolute",
          left: p.titleAt[0] - 70,
          top: p.titleAt[1] - 7,
          width: 140,
          textAlign: "center",
          fontFamily: "DejaVu Sans",
          fontWeight: "bold",
          fontSize: 10,
          lineHeight: "14px",
          color: "#111",
        }}
      >
        {p.title}
      </div>
      <div style={{ position: "absolute", left: p.box.l - YW, top: p.box.t - MT }}>
        <ComposedChart
          width={w + YW + MR}
          height={h + MT + MB + XH}
          data={rows}
          margin={{ top: MT, right: MR, bottom: MB, left: 0 }}
        >
          <XAxis
            dataKey="x"
            type="number"
            domain={p.xDomain}
            allowDataOverflow
            hide={!showX}
            ticks={X_TICKS}
            interval={0}
            height={XH}
            axisLine={false}
            tickLine={false}
            tickSize={1}
            tickMargin={p.xLabelGap ?? 4}
            tick={tickStyle}
          />
          <YAxis
            type="number"
            domain={p.yDomain}
            allowDataOverflow
            ticks={p.yTicks}
            interval={0}
            width={YW}
            axisLine={false}
            tickLine={false}
            tickSize={1}
            tickMargin={2}
            tick={tickStyle}
            tickFormatter={fmt(p.decimals ?? 0)}
          />
          <Area dataKey="band" type="monotone" fill={BAND} fillOpacity={1} stroke="none" isAnimationActive={false} />
          <Line dataKey="y" type="monotone" stroke={PRED} strokeWidth={1.5} dot={false} isAnimationActive={false} />
          <Scatter data={train} dataKey="y" shape={TrainDot} isAnimationActive={false} />
          <Scatter data={test} dataKey="y" shape={TestTri} isAnimationActive={false} />
          <ReferenceLine y={p.yDomain[1]} stroke={FRAME} />
          <ReferenceLine x={p.xDomain[0]} stroke={FRAME} />
          <ReferenceLine x={p.xDomain[1]} stroke={FRAME} />
          {p.bottomLine !== false && <ReferenceLine y={p.yDomain[0]} stroke={FRAME} />}
        </ComposedChart>
      </div>
    </>
  );
}

const legendText = {
  position: "absolute" as const,
  fontFamily: "'Open Sans'",
  fontSize: 12,
  lineHeight: "16px",
  color: "#1a1a1a",
  whiteSpace: "nowrap" as const,
};

export default function App() {
  return (
    <div
      style={{
        position: "absolute",
        left: 0,
        top: 0,
        width: 1042,
        height: 367,
        overflow: "hidden",
        background: "#ffffff",
      }}
    >
      <Panel
        title="EEG Cz-Ref"
        titleAt={[189, 12]}
        box={{ l: 31, t: 18, r: 348, b: 115 }}
        xDomain={[-3.8, 64.8]}
        yDomain={[-0.773, 0.559]}
        yTicks={[-0.75, -0.5, -0.25, 0, 0.25, 0.5]}
        decimals={2}
        start={-1}
        pred={czPred}
        spread={czSpread}
        train={czTrain}
        test={czTest}
      />
      <Panel
        title="EEG Fp1-Ref"
        titleAt={[541, 14]}
        box={{ l: 382, t: 19, r: 697, b: 117 }}
        xDomain={[-3.3, 64.7]}
        yDomain={[-107, 148]}
        yTicks={[-100, -50, 0, 50, 100]}
        start={0}
        pred={fp1Pred}
        spread={fp1Spread}
        train={fp1Train}
        test={fp1Test}
      />
      <Panel
        title="EEG Fp2-Ref"
        titleAt={[891, 14]}
        box={{ l: 731, t: 20, r: 1040, b: 115 }}
        xDomain={[-3.2, 64]}
        yDomain={[-103, 159]}
        yTicks={[-100, -50, 0, 50, 100, 150]}
        start={0}
        pred={fp2Pred}
        spread={fp2Spread}
        train={fp2Train}
        test={fp2Test}
      />
      <Panel
        title="EEG Fz-Ref"
        titleAt={[188, 127]}
        box={{ l: 28, t: 133, r: 348, b: 229 }}
        xDomain={[-4.3, 64.8]}
        yDomain={[-137.5, 97.5]}
        yTicks={[-100, -50, 0, 50]}
        start={-1}
        pred={fzPred}
        spread={fzSpread}
        train={fzTrain}
        test={fzTest}
        bottomLine={false}
      />
      <Panel
        title="EEG O1-Ref"
        titleAt={[540, 127]}
        box={{ l: 377, t: 133, r: 698, b: 228 }}
        xDomain={[-4.3, 64.9]}
        yDomain={[-90.7, 93.4]}
        yTicks={[-50, 0, 50]}
        start={-1}
        pred={o1Pred}
        spread={o1Spread}
        train={o1Train}
        test={o1Test}
        bottomLine={false}
      />
      <Panel
        title="EEG O2-Ref"
        titleAt={[892, 128]}
        box={{ l: 731, t: 135, r: 1040, b: 231 }}
        xDomain={[-3.2, 64]}
        yDomain={[-209, 207]}
        yTicks={[-200, -100, 0, 100, 200]}
        start={0}
        pred={o2Pred}
        spread={o2Spread}
        train={o2Train}
        test={o2Test}
        xLabelGap={4}
      />
      <Panel
        title="EEG T3-Ref"
        titleAt={[187, 239]}
        box={{ l: 28, t: 244, r: 344, b: 342 }}
        xDomain={[-4.3, 63.8]}
        yDomain={[-188, 126]}
        yTicks={[-100, 0, 100]}
        start={-1}
        pred={t3Pred}
        spread={t3Spread}
        train={t3Train}
        test={t3Test}
        xLabelGap={11}
      />
      <Panel
        title="EEG T4-Ref"
        titleAt={[542, 238]}
        box={{ l: 382, t: 243, r: 698, b: 341 }}
        xDomain={[-3.2, 65]}
        yDomain={[-185, 148]}
        yTicks={[-100, 0, 100]}
        start={0}
        pred={t4Pred}
        spread={t4Spread}
        train={t4Train}
        test={t4Test}
        xLabelGap={12}
      />

      <svg style={{ position: "absolute", left: 740, top: 270 }} width={180} height={64}>
        <circle cx={18} cy={15} r={8.5} fill="#1a1a1a" />
        <polygon points="18,43 26.5,60 9.5,60" fill="#d9661f" />
        <rect x={134} y={13.3} width={39} height={3.4} fill={PRED} />
        <rect x={134} y={43} width={39} height={14} fill={BAND} />
      </svg>
      <div style={{ ...legendText, left: 778, top: 277 }}>Train data</div>
      <div style={{ ...legendText, left: 779, top: 313 }}>Test data</div>
      <div style={{ ...legendText, left: 923, top: 278 }}>Prediction</div>
      <div style={{ ...legendText, left: 923, top: 313 }}>95% Confidence</div>
    </div>
  );
}
